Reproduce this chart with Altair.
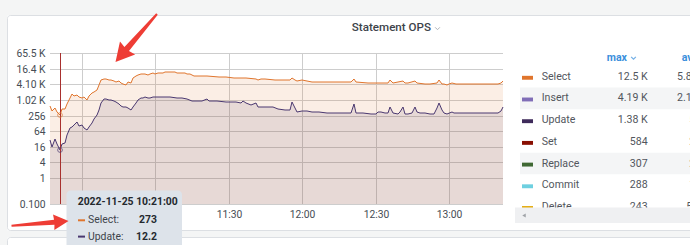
import altair as alt
import pandas as pd

# ---------------- data ----------------
DATE = "2022-11-25"
x_start, x_end = "10:17", "13:22"
x_ticks = ["10:30", "11:00", "11:30", "12:00", "12:30", "13:00"]
x_hidden_labels = ["10:30", "11:00"]   # these two sit under the tooltip
y_ticks = [0.1, 1, 4, 16, 64, 256, 1024, 4096, 16384, 65536]
y_floor = 0.1

select_times = [
    "10:17", "10:18", "10:19", "10:20", "10:21", "10:22", "10:23", "10:24", "10:25", "10:26",
    "10:27", "10:28", "10:29", "10:30", "10:31", "10:32", "10:33", "10:34", "10:35", "10:36",
    "10:37", "10:38", "10:39", "10:40", "10:41", "10:42", "10:43", "10:44", "10:45", "10:46",
    "10:47", "10:48", "10:49", "10:50", "10:51", "10:52", "10:53", "10:54", "10:55", "10:56",
    "10:57", "10:58", "10:59", "11:00", "11:01", "11:02", "11:03", "11:04", "11:05", "11:06",
    "11:07", "11:08", "11:09", "11:10", "11:11", "11:12", "11:13", "11:14", "11:15", "11:16",
    "11:17", "11:18", "11:21", "11:26", "11:29", "11:32", "11:35", "11:37", "11:41", "11:42",
    "11:43", "11:45", "11:49", "11:51", "11:55", "11:56", "11:57", "11:58", "12:00", "12:02",
    "12:04", "12:07", "12:12", "12:17", "12:20", "12:21", "12:22", "12:27", "12:31", "12:32",
    "12:35", "12:36", "12:37", "12:41", "12:42", "12:43", "12:46", "12:47", "12:50", "12:52",
    "12:55", "12:56", "12:57", "12:58", "12:59", "13:00", "13:01", "13:03", "13:07", "13:12",
    "13:17", "13:20", "13:21", "13:22",
]
select_values = [
    575, 383, 498, 350, 273, 456, 475, 709, 1260, 1800,
    1440, 1650, 1380, 1210, 1320, 1010, 1440, 1880, 2060, 2460,
    3830, 6200, 6360, 6360, 6080, 5970, 5470, 5230, 5610, 4780,
    4190, 3830, 5000, 4780, 7130, 8520, 9730, 10600, 10600, 10200,
    9730, 10600, 10800, 10200, 11100, 11400, 11600, 11800, 11900, 12100,
    12500, 12100, 11600, 11100, 10800, 11100, 10600, 10200, 9730, 8520,
    8520, 8520, 8290, 7940, 7660, 7460, 7130, 6950, 6530, 5970,
    6530, 6360, 6080, 5970, 6240, 7460, 6240, 5610, 5870, 5710,
    5230, 5090, 4870, 5000, 5090, 6530, 5000, 4780, 4700, 4780,
    4780, 5970, 4700, 5610, 4580, 4460, 5610, 4460, 4300, 4190,
    4580, 5970, 4380, 4010, 3830, 4010, 4460, 4380, 4190, 4190,
    4190, 4190, 4780, 5610,
]

update_times = [
    "10:17", "10:18", "10:19", "10:20", "10:21", "10:22", "10:23", "10:24", "10:25", "10:26",
    "10:27", "10:28", "10:29", "10:30", "10:31", "10:32", "10:33", "10:34", "10:35", "10:36",
    "10:37", "10:38", "10:39", "10:40", "10:41", "10:42", "10:43", "10:44", "10:45", "10:46",
    "10:47", "10:48", "10:49", "10:50", "10:51", "10:52", "10:53", "10:54", "10:55", "10:56",
    "10:57", "10:58", "10:59", "11:00", "11:02", "11:04", "11:06", "11:09", "11:11", "11:13",
    "11:15", "11:17", "11:19", "11:21", "11:22", "11:25", "11:29", "11:33", "11:35", "11:36",
    "11:37", "11:39", "11:41", "11:42", "11:45", "11:48", "11:50", "11:53", "11:55", "11:56",
    "11:57", "11:58", "12:00", "12:02", "12:04", "12:07", "12:10", "12:15", "12:20", "12:21",
    "12:22", "12:25", "12:28", "12:30", "12:31", "12:32", "12:34", "12:35", "12:36", "12:37",
    "12:39", "12:40", "12:41", "12:42", "12:43", "12:45", "12:46", "12:47", "12:48", "12:50",
    "12:52", "12:54", "12:55", "12:56", "12:57", "12:58", "12:59", "13:01", "13:02", "13:04",
    "13:07", "13:12", "13:17", "13:20", "13:21", "13:22",
]
update_values = [
    29, 15.6, 32, 20.4, 12.2, 20, 22, 45, 84, 96,
    110, 145, 105, 110, 84, 71, 94, 132, 185, 267,
    416, 776, 1110, 1110, 1060, 1010, 944, 886, 742, 622,
    559, 569, 498, 436, 559, 811, 1010, 1180, 1260, 1320,
    1210, 1260, 1290, 1320, 1360, 1320, 1290, 1210, 1180, 1110,
    969, 952, 952, 1080, 952, 910, 871, 826, 797, 952,
    756, 650, 756, 559, 559, 535, 456, 425, 417, 871,
    498, 359, 392, 382, 359, 349, 328, 320, 311, 692,
    328, 314, 298, 292, 349, 340, 320, 334, 559, 311,
    306, 349, 530, 306, 292, 320, 559, 359, 334, 328,
    292, 306, 498, 756, 417, 311, 298, 359, 334, 311,
    311, 311, 320, 328, 382, 545,
]

hover_time = "10:21"

legend_names = ["Select", "Insert", "Update", "Set", "Replace", "Commit", "Delete"]
legend_colors = ["#e0752d", "#806eb7", "#3f2b5b", "#890f02", "#3f6833", "#6ed0e0", "#e5ac0e"]
legend_max = ["12.5 K", "4.19 K", "1.38 K", "584", "307", "288", "243"]
legend_avg = ["5.84 K", "2.13 K", "512", "247", "236", "139", "52.6"]
legend_shaded = ["Insert", "Replace"]

title_text = "Statement OPS"

# ---------------- styles ----------------
SEL_C = legend_colors[0]
UPD_C = legend_colors[2]
UPD_LINE = "#4a3870"
TXT = "#464c54"
GRID = "#cdcdcd"
RED = "#ee3d35"
FONT = "Roboto"
W, H = 453, 151


def ts(hm):
    return f"{DATE}T{hm}:00"


def dt(hm):
    h, m = map(int, hm.split(":"))
    return alt.DateTime(year=2022, month=11, date=25, hours=h, minutes=m)


sel_df = pd.DataFrame({"time": [ts(t) for t in select_times], "value": select_values, "base": y_floor})
upd_df = pd.DataFrame({"time": [ts(t) for t in update_times], "value": update_values, "base": y_floor})

sv = select_values[select_times.index(hover_time)]
uv = update_values[update_times.index(hover_time)]
hover_df = pd.DataFrame({
    "time": [ts(hover_time), ts(hover_time)],
    "label": ["Select:", "Update:"],
    "value": [sv, uv],
    "color": [SEL_C, UPD_LINE],
    "trow": [0, 1],
})

leg_df = pd.DataFrame({
    "name": legend_names,
    "color": legend_colors,
    "max": legend_max,
    "avg": legend_avg,
    "row": list(range(len(legend_names))),
    "shaded": [n in legend_shaded for n in legend_names],
})

ygrid_df = pd.DataFrame({"value": y_ticks})
xgrid_df = pd.DataFrame({"time": [ts(t) for t in x_ticks]})
one = pd.DataFrame({"k": [0]})

x_scale = alt.Scale(domain=[dt(x_start), dt(x_end)], round=True)
y_scale = alt.Scale(type="log", domain=[y_ticks[0], y_ticks[-1]], nice=False, round=True)

hidden = ", ".join(f"'{t}'" for t in x_hidden_labels)
x_axis = alt.Axis(
    values=[dt(t) for t in x_ticks], format="%H:%M", title=None, grid=False,
    domain=False, ticks=False, tickSize=0, labelPadding=5,
    labelFontSize=10.3, labelColor=TXT, labelFont=FONT, labelFlush=False,
    labelExpr=f"indexof([{hidden}], datum.label) >= 0 ? '' : datum.label",
)
y_axis = alt.Axis(
    values=y_ticks, title=None, grid=False,
    domain=False, ticks=False, tickSize=0, labelPadding=5, labelFontSize=10.3,
    labelColor=TXT, labelFont=FONT, labelFlush=False,
    labelExpr="datum.value >= 1000 ? format(datum.value/1000, '.3r') + ' K' : "
              "(datum.value < 1 ? format(datum.value, '.3r') : format(datum.value, 'd'))",
)

X = alt.X("time:T", scale=x_scale, axis=x_axis)
Y = alt.Y("value:Q", scale=y_scale, axis=y_axis)


# ---------------- panel frame (outside the plot area) ----------------
def box(x1, x2, y1, y2, **kw):
    return alt.Chart(one).mark_rect(**kw).encode(
        x=alt.value(x1), x2=alt.value(x2), y=alt.value(y1), y2=alt.value(y2)
    )


gray = "#f4f5f5"
frame = [
    box(-50, 650, -53, -37.5, color=gray),
    box(-50, -42.5, -53, 200, color=gray),
    box(-50, 650, 177.5, 184.5, color=gray),
    box(-42.5, 650, -37.5, 177.5, fill="transparent", stroke="#dcdfe3", strokeWidth=1, cornerRadius=3),
    box(-42.5, 650, 184.5, 220, fill="transparent", stroke="#dcdfe3", strokeWidth=1, cornerRadius=3),
]

# ---------------- series (shared x / y inside this sub-layer) ----------------
ygrid = alt.Chart(ygrid_df).mark_rule(color=GRID, strokeWidth=1, yOffset=0.5).encode(
    y=Y, x=alt.value(0), x2=alt.value(W)
)
xgrid = alt.Chart(xgrid_df).mark_rule(color=GRID, strokeWidth=1, xOffset=0.5).encode(
    x=X, y=alt.value(0), y2=alt.value(H)
)
sel_area = alt.Chart(sel_df).mark_area(color=SEL_C, opacity=0.12).encode(
    x=X, y=Y, y2="base:Q"
)
upd_area = alt.Chart(upd_df).mark_area(color=UPD_C, opacity=0.1).encode(
    x=X, y=Y, y2="base:Q"
)
sel_line = alt.Chart(sel_df).mark_line(color=SEL_C, strokeWidth=1).encode(x=X, y=Y)
upd_line = alt.Chart(upd_df).mark_line(color=UPD_LINE, strokeWidth=1).encode(x=X, y=Y)
hover_rule = alt.Chart(hover_df.head(1)).mark_rule(color="#a8302e", strokeWidth=1, xOffset=0.5).encode(
    x=X, y=alt.value(0), y2=alt.value(H)
)
hover_pts = alt.Chart(hover_df).mark_point(filled=False, size=22, strokeWidth=1).encode(
    x=X, y=Y, color=alt.Color("color:N", scale=None)
)
series = alt.layer(ygrid, xgrid, sel_area, upd_area, sel_line, upd_line, hover_rule, hover_pts)

# ---------------- title ----------------
title = alt.Chart(one).mark_text(
    text=title_text, font=FONT, fontSize=11.6, fontWeight=500, color="#3d434a",
    align="center", baseline="middle",
).encode(x=alt.value(341.4), y=alt.value(-25))
title_chev = alt.Chart(one).mark_point(
    shape="M-1,-0.5L0,0.5L1,-0.5", filled=False, size=22, strokeWidth=1, color="#8e9299"
).encode(x=alt.value(387.5), y=alt.value(-24.5))

# ---------------- legend table ----------------
row_scale = alt.Scale(domain=[0, 6], range=[23.7, 153.9])
RY = alt.Y("row:Q", scale=row_scale, axis=None)

leg_band = alt.Chart(leg_df).transform_filter("datum.shaded").transform_calculate(
    r0="datum.row - 0.5", r1="datum.row + 0.5"
).mark_rect(color="#f4f5f6").encode(
    x=alt.value(470), x2=alt.value(650),
    y=alt.Y("r0:Q", scale=row_scale, axis=None), y2="r1:Q",
)
leg_sw = alt.Chart(leg_df).transform_calculate(
    s0="datum.row - 0.04", s1="datum.row + 0.14"
).mark_rect().encode(
    x=alt.value(472), x2=alt.value(483),
    y=alt.Y("s0:Q", scale=row_scale, axis=None), y2="s1:Q",
    color=alt.Color("color:N", scale=None),
)
leg_name = alt.Chart(leg_df).mark_text(
    align="left", baseline="middle", font=FONT, fontSize=10.6, color="#52565d"
).encode(x=alt.value(491.7), y=RY, text="name:N")
leg_max = alt.Chart(leg_df).mark_text(
    align="right", baseline="middle", font=FONT, fontSize=10.6, color="#52565d"
).encode(x=alt.value(597.7), y=RY, text="max:N")
leg_avg = alt.Chart(leg_df).mark_text(
    align="right", baseline="middle", font=FONT, fontSize=10.6, color="#52565d"
).encode(x=alt.value(657), y=RY, text="avg:N")

hdr_max = alt.Chart(one).mark_text(
    text="max", align="right", baseline="middle", font=FONT, fontSize=10.6,
    fontWeight="bold", color="#3a8fdc",
).encode(x=alt.value(577), y=alt.value(4.5))
hdr_chev = alt.Chart(one).mark_point(
    shape="M-1,-0.5L0,0.5L1,-0.5", filled=False, size=22, strokeWidth=1.2, color="#3a8fdc"
).encode(x=alt.value(583.5), y=alt.value(5))
hdr_avg = alt.Chart(one).mark_text(
    text="avg", align="left", baseline="middle", font=FONT, fontSize=10.6,
    fontWeight="bold", color="#3a8fdc",
).encode(x=alt.value(631.7), y=alt.value(4.5))

scroll = box(465, 650, 154.5, 170, color="#eff0f2")
scroll_arrow = alt.Chart(one).mark_point(
    shape="triangle-left", filled=True, size=16, color="#7d8187", strokeWidth=0
).encode(x=alt.value(474), y=alt.value(162.5))

# ---------------- tooltip ----------------
tip_box = box(16.5, 132, 137.5, 200, color="#dde3ea", cornerRadius=4)
tip_date = alt.Chart(one).mark_text(
    text=f"{DATE} {hover_time}:00", align="left", baseline="middle", font=FONT,
    fontSize=10.4, fontWeight="bold", color="#24292e",
).encode(x=alt.value(27.7), y=alt.value(149))
tip_scale = alt.Scale(domain=[0, 1], range=[167.3, 183.6])
TY = alt.Y("trow:Q", scale=tip_scale, axis=None)
tip_dash = alt.Chart(hover_df).mark_rule(strokeWidth=2).encode(
    x=alt.value(28), x2=alt.value(35), y=TY, color=alt.Color("color:N", scale=None)
)
tip_lab = alt.Chart(hover_df).mark_text(
    align="left", baseline="middle", font=FONT, fontSize=10.4, color="#3d434a"
).encode(x=alt.value(38), y=TY, text="label:N")
tip_val = alt.Chart(hover_df).mark_text(
    align="right", baseline="middle", font=FONT, fontSize=10.4, fontWeight="bold",
    color="#24292e",
).encode(x=alt.value(107), y=TY, text=alt.Text("value:Q", format=".3~r"))

# ---------------- annotation arrows ----------------
arrow1 = alt.Chart(one).mark_point(
    shape="M0,-1L0.315,-0.42L0.095,-0.46L0.032,1L-0.032,1L-0.095,-0.46L-0.315,-0.42Z",
    filled=True, size=4026, angle=220.8, color=RED, strokeWidth=0, opacity=1,
).encode(x=alt.value(86.25), y=alt.value(-15))
arrow2 = alt.Chart(one).mark_point(
    shape="M0,-1L0.27,-0.48L0.087,-0.5L0.035,1L-0.035,1L-0.087,-0.5L-0.27,-0.48Z",
    filled=True, size=3272, angle=85.2, color=RED, strokeWidth=0, opacity=1,
).encode(x=alt.value(-10), y=alt.value(170.4))

chart = alt.layer(
    *frame,
    series,
    title, title_chev,
    leg_band, leg_sw, leg_name, leg_max, leg_avg, hdr_max, hdr_chev, hdr_avg,
    scroll, scroll_arrow,
    tip_box, tip_date, tip_dash, tip_lab, tip_val,
    arrow1, arrow2,
).resolve_scale(y="independent").properties(
    width=W, height=H,
    autosize=alt.AutoSizeParams(type="none"),
    padding={"left": 50, "top": 53, "right": 187, "bottom": 41},
    background="#ffffff",
).configure(font=FONT).configure_view(strokeWidth=0)

chart.save("out.html", embed_options={"renderer": "svg", "actions": False})
